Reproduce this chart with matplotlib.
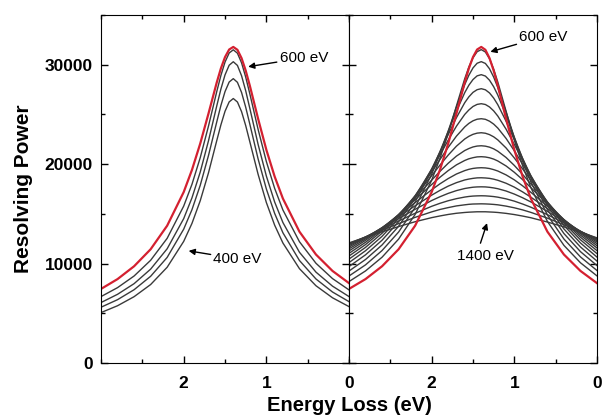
import matplotlib
matplotlib.use('Agg')
import matplotlib.pyplot as plt
from matplotlib.ticker import MultipleLocator

plt.rcParams['font.family'] = ['Liberation Sans', 'DejaVu Sans']

# energy loss grid (eV), read along the reversed axis
energy_loss = [3.0, 2.8, 2.6, 2.4, 2.2, 2.0, 1.9, 1.8, 1.7, 1.6, 1.55, 1.5, 1.45, 1.4,
               1.35, 1.3, 1.25, 1.2, 1.1, 1.0, 0.9, 0.8, 0.6, 0.4, 0.2, 0.0]

# red curve, 600 eV (same in both panels)
red_600 = [7450, 8440, 9730, 11440, 13810, 17190, 19420, 22070, 25090, 28220, 29630, 30770, 31530, 31790,
           31500, 30660, 29410, 27890, 24570, 21440, 18760, 16540, 13210, 10910, 9260, 8030]

# left panel, 550 -> 400 eV
left_energies = [550, 500, 450, 400]
left_curves = [
    [6680, 7580, 8750, 10330, 12540, 15780, 17970, 20650, 23830, 27300, 28920, 30270, 31180, 31500,
     31160, 30190, 28760, 27070, 23500, 20260, 17570, 15390, 12200, 10030, 8490, 7350],
    [6080, 6910, 7980, 9440, 11490, 14520, 16610, 19200, 22350, 25860, 27550, 28980, 29950, 30300,
     29930, 28890, 27380, 25610, 21990, 18800, 16200, 14130, 11140, 9140, 7730, 6680],
    [5610, 6370, 7370, 8720, 10620, 13460, 15420, 17870, 20870, 24250, 25900, 27300, 28260, 28600,
     28230, 27210, 25730, 24020, 20530, 17500, 15050, 13100, 10310, 8450, 7140, 6170],
    [5070, 5760, 6670, 7890, 9630, 12230, 14040, 16320, 19130, 22370, 23950, 25320, 26260, 26600,
     26250, 25280, 23880, 22250, 18980, 16140, 13870, 12070, 9490, 7770, 6560, 5670],
]

# right panel, 700 -> 1400 eV
right_energies = [700, 750, 800, 850, 900, 950, 1000, 1050, 1100, 1150, 1200, 1250, 1300, 1350, 1400]
right_curves = [
    [8190, 9260, 10640, 12460, 14940, 18380, 20570, 23090, 25860, 28590, 29770, 30700, 31310, 31520,
     31280, 30600, 29560, 28260, 25330, 22430, 19840, 17640, 14240, 11830, 10080, 8760],
    [8750, 9870, 11310, 13170, 15650, 18990, 21050, 23330, 25740, 28000, 28940, 29680, 30150, 30310,
     30130, 29590, 28760, 27710, 25240, 22680, 20310, 18220, 14890, 12470, 10670, 9300],
    [9250, 10410, 11870, 13750, 16190, 19370, 21250, 23280, 25330, 27190, 27940, 28510, 28880, 29000,
     28860, 28440, 27790, 26950, 24900, 22690, 20560, 18620, 15430, 13020, 11200, 9800],
    [9700, 10880, 12350, 14210, 16570, 19520, 21210, 22970, 24680, 26180, 26770, 27220, 27490, 27590,
     27480, 27160, 26650, 25980, 24320, 22450, 20580, 18830, 15830, 13480, 11670, 10250],
    [10100, 11290, 12740, 14550, 16780, 19460, 20920, 22410, 23820, 25000, 25450, 25800, 26010, 26080,
     26000, 25750, 25360, 24840, 23520, 21980, 20380, 18830, 16080, 13840, 12070, 10650],
    [10450, 11630, 13050, 14770, 16830, 19200, 20460, 21690, 22820, 23740, 24100, 24360, 24520, 24570,
     24510, 24320, 24030, 23630, 22590, 21340, 20000, 18670, 16190, 14100, 12390, 11000],
    [10760, 11910, 13280, 14890, 16770, 18840, 19900, 20910, 21810, 22530, 22800, 23000, 23120, 23160,
     23110, 22970, 22750, 22440, 21630, 20620, 19520, 18380, 16190, 14270, 12650, 11300],
    [11030, 12140, 13440, 14930, 16610, 18390, 19270, 20090, 20810, 21370, 21570, 21730, 21820, 21850,
     21810, 21710, 21540, 21300, 20670, 19870, 18970, 18010, 16120, 14380, 12860, 11570],
    [11270, 12340, 13550, 14920, 16420, 17950, 18680, 19350, 19930, 20370, 20540, 20650, 20730, 20750,
     20720, 20640, 20510, 20320, 19820, 19180, 18440, 17640, 15990, 14430, 13030, 11800],
    [11480, 12480, 13610, 14840, 16130, 17420, 18020, 18550, 19010, 19350, 19480, 19570, 19620, 19640,
     19620, 19560, 19450, 19310, 18920, 18420, 17820, 17170, 15780, 14410, 13140, 12000],
    [11660, 12590, 13610, 14700, 15810, 16880, 17360, 17790, 18140, 18410, 18500, 18570, 18620, 18630,
     18610, 18570, 18490, 18380, 18080, 17690, 17210, 16680, 15530, 14350, 13220, 12170],
    [11800, 12650, 13570, 14520, 15460, 16340, 16720, 17060, 17340, 17550, 17620, 17680, 17710, 17720,
     17710, 17670, 17610, 17530, 17300, 16990, 16620, 16200, 15250, 14250, 13250, 12310],
    [11920, 12680, 13480, 14280, 15060, 15760, 16060, 16320, 16530, 16690, 16750, 16790, 16810, 16820,
     16810, 16780, 16740, 16680, 16510, 16280, 15990, 15670, 14920, 14100, 13250, 12430],
    [12010, 12680, 13360, 14020, 14650, 15200, 15440, 15630, 15800, 15910, 15960, 15990, 16000, 16010,
     16000, 15980, 15950, 15910, 15780, 15610, 15400, 15150, 14570, 13910, 13220, 12520],
    [12080, 12640, 13190, 13720, 14210, 14620, 14790, 14940, 15060, 15140, 15170, 15190, 15210, 15210,
     15210, 15190, 15170, 15140, 15050, 14930, 14780, 14610, 14180, 13690, 13150, 12590],
]

x_ticks = [2, 1, 0]
y_ticks = [0, 10000, 20000, 30000]

fig = plt.figure(figsize=(6.02, 4.16), dpi=100)
ax1 = fig.add_axes([0.1678, 0.1274, 0.412, 0.8365])
ax2 = fig.add_axes([0.5797, 0.1274, 0.412, 0.8365])

for ax, curves in ((ax1, left_curves), (ax2, right_curves)):
    for c in curves:
        ax.plot(energy_loss, c, color='#3a3a3a', lw=1)
    ax.plot(energy_loss, red_600, color='#d42030', lw=1.6)
    ax.set_xlim(3, 0)
    ax.set_ylim(0, 35000)
    ax.xaxis.set_minor_locator(MultipleLocator(0.5))
    ax.yaxis.set_minor_locator(MultipleLocator(5000))
    ax.tick_params(which='both', direction='in', top=True, right=True, width=1)
    ax.tick_params(which='major', length=5, labelsize=12.5)
    ax.tick_params(axis='x', pad=9)
    ax.tick_params(axis='y', pad=6)
    ax.tick_params(which='minor', length=3)
    ax.set_xticks(x_ticks)
    ax.set_xticklabels([str(t) for t in x_ticks], fontweight='bold')
    ax.set_yticks(y_ticks)
ax2.tick_params(labelleft=False)
ax1.set_yticklabels([str(t) for t in y_ticks], fontweight='bold')

ax1.set_ylabel('Resolving Power', fontsize=15, fontweight='bold', labelpad=8)
fig.text(0.58, 0.026, 'Energy Loss (eV)', fontsize=14.5, fontweight='bold', ha='center', va='center')

# labels with arrows
arr = dict(arrowstyle='-|>', color='black', lw=1, mutation_scale=9, shrinkA=0, shrinkB=0)
ax1.annotate('600 eV', xy=(1.22, 29800), xytext=(0.84, 30700), fontsize=11, va='center', ha='left', arrowprops=arr)
ax1.annotate('400 eV', xy=(1.94, 11280), xytext=(1.64, 10470), fontsize=11, va='center', ha='left', arrowprops=arr)
ax2.annotate('600 eV', xy=(1.29, 31300), xytext=(0.94, 32830), fontsize=11, va='center', ha='left', arrowprops=arr)
ax2.annotate('', xy=(1.33, 14070), xytext=(1.41, 12050), arrowprops=arr)
ax2.text(1.35, 10720, '1400 eV', fontsize=11, va='center', ha='center')

fig.savefig('out.png')
